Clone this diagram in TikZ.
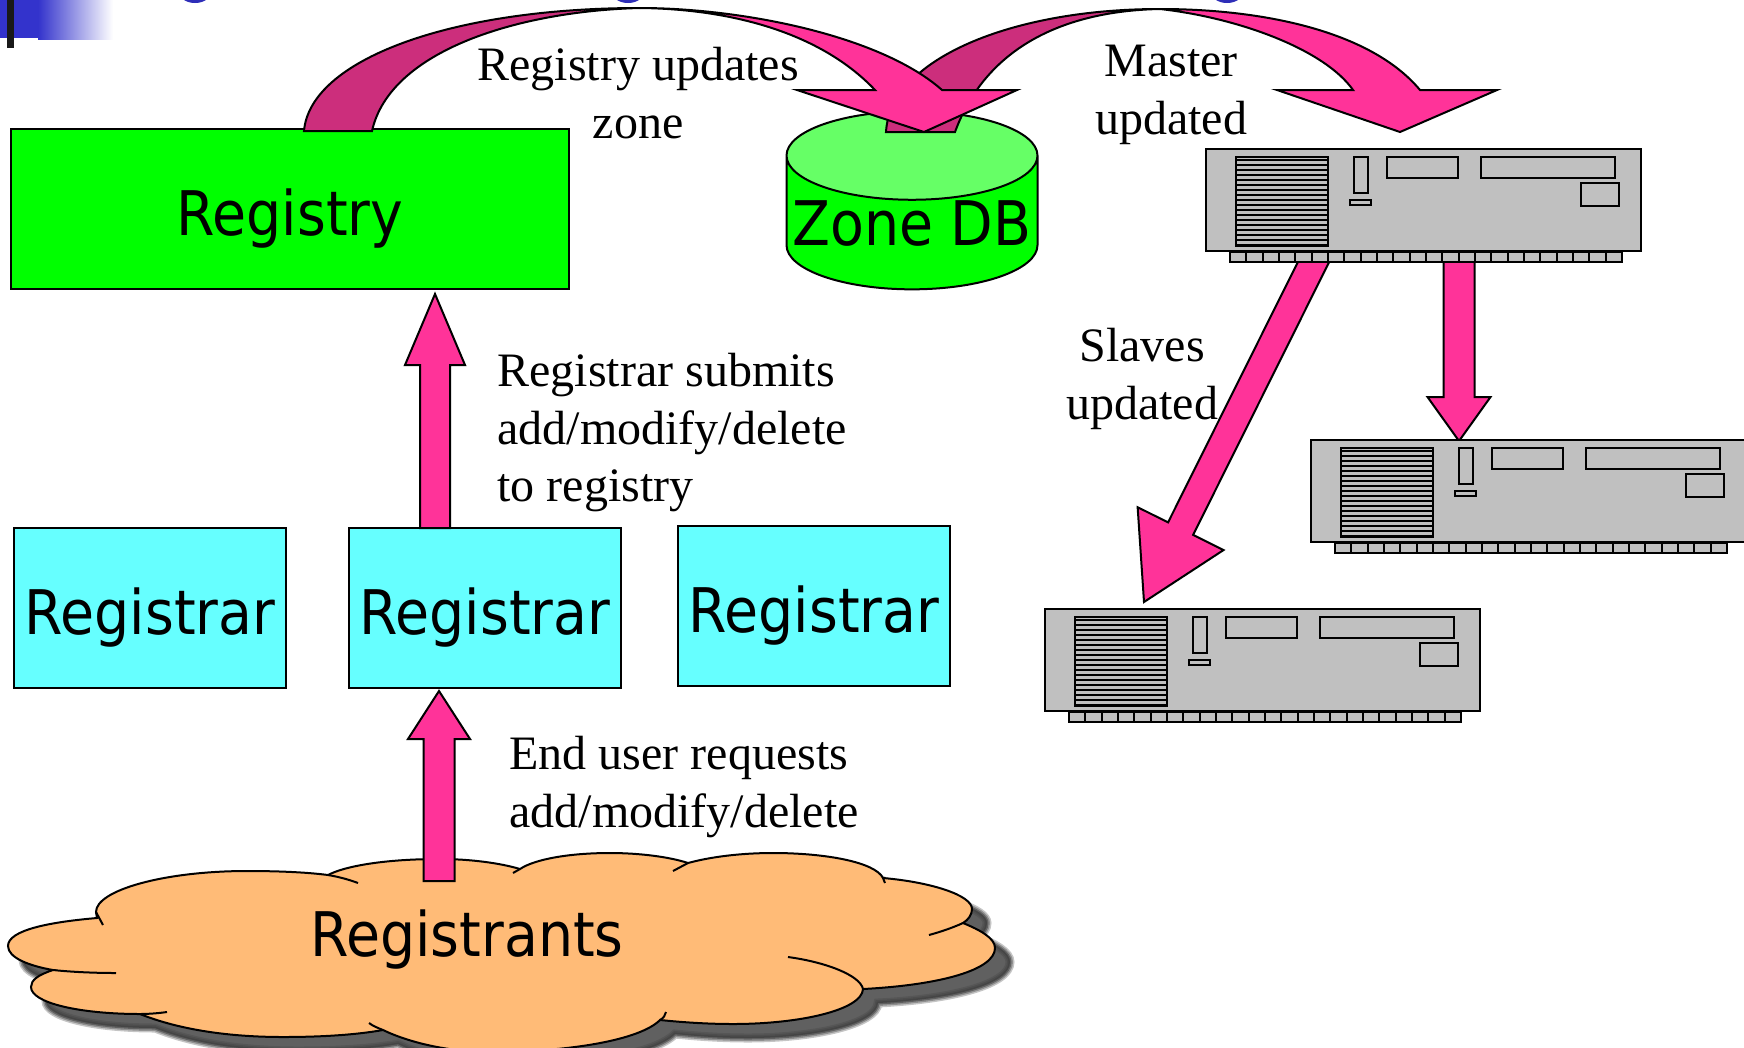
\documentclass[tikz,border=0pt]{standalone}
\usepackage{fontspec}
\setmainfont{Liberation Serif}
\newfontfamily\boxfont{DejaVu Sans Condensed}
\usetikzlibrary{calc,positioning,shapes.geometric}
\definecolor{hotpink}{HTML}{FF3399}
\definecolor{darkpink}{HTML}{CC2E7C}
\definecolor{headblue}{HTML}{3333CC}
\definecolor{srvgray}{HTML}{C0C0C0}
\definecolor{cloudfill}{HTML}{FFBB77}
\definecolor{regcyan}{HTML}{66FFFF}
\definecolor{lidgreen}{HTML}{66FF66}
\definecolor{shadowgray}{HTML}{404040}
\tikzset{
    %Define style for boxes
    bigtext/.style={
           font = \boxfont\fontsize{61.5}{66}\selectfont,
           text height = 53pt,
           text depth = 0pt},
    regbox/.style={
           rectangle, bigtext,
           draw = black, line width = 2pt,
           fill = regcyan,
           minimum width = 272pt,
           minimum height = 160pt},
    topbox/.style={
           rectangle, bigtext,
           draw = black, line width = 2pt,
           fill = green,
           minimum width = 558pt,
           minimum height = 160pt},
    dbase/.style={
           cylinder, bigtext,
           text height = 34pt,
           shape border rotate = 90,
           aspect = 0.36,
           draw = black, line width = 2pt,
           cylinder uses custom fill,
           cylinder body fill = green,
           cylinder end fill = lidgreen,
           minimum width = 251pt,
           minimum height = 178pt},
    % Define text style
    say/.style={
           font = \fontsize{48}{57.5}\selectfont,
           align = center},
    % Define arrow style
    fat/.style={
           draw = black, line width = 2pt,
           fill = hotpink},
    fatback/.style={
           draw = black, line width = 2pt,
           fill = darkpink},
    part/.style={
           draw = black, line width = 2pt,
           fill = srvgray},
    server/.pic={
           \draw[part] (0,0) rectangle (435,102);
           \foreach \tx in {0,...,23}
               \draw[part] ({24+\tx*16.33},103) rectangle ++(16.33,10);
           \draw[part] (30,8) rectangle (122,97);
           \foreach \ty in {11,16,...,96}
               \draw[line width = 2.2pt] (30,\ty) -- (122,\ty);
           \draw[part] (148,8) rectangle (162,44);
           \draw[part] (144,51) rectangle (165,56);
           \draw[part] (181,8) rectangle (252,29);
           \draw[part] (275,8) rectangle (409,29);
           \draw[part] (375,34) rectangle (413,57);
    }
}
% tail, tip, shaft width, head width, head length
\newcommand{\blockarrow}[5]{%
  \coordinate (neck) at ($(#2)!#5!(#1)$);
  \draw[fat] ($(#1)!#3/2!90:(#2)$) -- ($(neck)!#3/2!90:(#2)$) -- ($(neck)!#4/2!90:(#2)$)
     -- (#2) -- ($(neck)!#4/2!-90:(#2)$) -- ($(neck)!#3/2!-90:(#2)$) -- ($(#1)!#3/2!-90:(#2)$) -- cycle;
}
\newcommand{\cloudline}{
  (97,918) .. controls (50,922) and (8,930) .. (8,946)
  .. controls (8,958) and (30,966) .. (53,970)
  .. controls (38,975) and (31,980) .. (31,987)
  .. controls (31,1003) and (80,1014) .. (140,1014)
  .. controls (180,1030) and (230,1037) .. (283,1037)
  .. controls (320,1037) and (355,1035) .. (383,1030)
  .. controls (410,1043) and (450,1052) .. (490,1052)
  .. controls (570,1052) and (640,1040) .. (660,1020)
  .. controls (680,1022) and (705,1024) .. (733,1024)
  .. controls (800,1024) and (862,1010) .. (863,989)
  .. controls (940,985) and (995,970) .. (995,948)
  .. controls (995,938) and (980,930) .. (963,923)
  .. controls (968,920) and (972,915) .. (972,909)
  .. controls (972,895) and (930,882) .. (883,878)
  .. controls (875,862) and (825,853) .. (773,853)
  .. controls (740,853) and (710,857) .. (688,863)
  .. controls (670,857) and (640,853) .. (610,853)
  .. controls (570,853) and (535,859) .. (520,869)
  .. controls (500,863) and (470,859) .. (440,859)
  .. controls (385,859) and (345,866) .. (328,875)
  .. controls (305,872) and (275,871) .. (247,871)
  .. controls (165,871) and (96,890) .. (96,912) -- cycle
}
\begin{document}
\begin{tikzpicture}[x=1pt, y=-1pt]
\useasboundingbox (0,0) rectangle (1744,1047);
 %slide header
\fill[headblue] (0,0) rectangle (38,38);
\shade[left color=headblue, right color=white] (38,0) rectangle (113,39);
\fill[black!90] (7,0) rectangle (14,48);
\fill[headblue!90!black] (195,-8) ellipse (16 and 11);
\fill[headblue!90!black] (628,-8) ellipse (16 and 11);
\fill[headblue!90!black] (1227,-8) ellipse (16 and 11);
 %nodes
\node[topbox] (registry) at (290,209) {Registry};
\node[regbox] (regleft) at (150,608) {Registrar};
\node[regbox, right=61pt of regleft] (regmid) {Registrar};
\node[regbox, right=55pt of regmid, yshift=2pt] (regright) {Registrar};
\node[dbase] (zonedb) at (912,228) {Zone DB};
 %cloud
\foreach \w/\o in {9/0.3,6/0.4,3/0.6}
   \draw[line width=\w pt, draw=shadowgray, fill=shadowgray, opacity=\o, shift={(15,14)}] \cloudline;
\draw[line width=2pt, fill=cloudfill] \cloudline;
\draw[line width=2pt] (96,912) -- (103,925);
\draw[line width=2pt] (53,970) .. controls (72,972) and (95,973) .. (116,973);
\draw[line width=2pt] (140,1014) .. controls (150,1014) and (160,1013) .. (167,1012);
\draw[line width=2pt] (383,1030) .. controls (378,1028) and (373,1026) .. (369,1023);
\draw[line width=2pt] (660,1020) .. controls (664,1018) and (665,1015) .. (666,1012);
\draw[line width=2pt] (863,989) .. controls (860,975) and (825,962) .. (788,957);
\draw[line width=2pt] (963,923) .. controls (952,928) and (940,932) .. (929,935);
\draw[line width=2pt] (883,878) -- (885,883);
\draw[line width=2pt] (688,863) -- (673,871);
\draw[line width=2pt] (520,869) -- (513,873);
\draw[line width=2pt] (328,875) .. controls (340,877) and (350,880) .. (358,883);
\node[bigtext] (registrants) at (467,930) {Registrants};
 %curved arrows
\draw[fatback] (886,132) .. controls (890,60) and (1010,9) .. (1160,9)
    .. controls (1060,11) and (985,50) .. (955,132) -- cycle;
\draw[fat] (1160,9) .. controls (1260,9) and (1370,30) .. (1420,90) -- (1497,90) -- (1400,132)
    -- (1277,90) -- (1353,90) .. controls (1325,50) and (1240,18) .. (1160,9) -- cycle;
\draw[fatback] (304,131) .. controls (310,60) and (450,8) .. (640,8)
    .. controls (520,11) and (390,50) .. (372,131) -- cycle;
\draw[fat] (640,8) .. controls (740,8) and (880,35) .. (942,90) -- (1017,90) -- (924,132)
    -- (797,90) -- (875,90) .. controls (820,32) and (730,9) .. (640,8) -- cycle;
 %straight arrows
\coordinate (upfrom) at (435,528);
\coordinate (upto) at (435,294);
\coordinate (cloudtop) at (439,881);
\coordinate (cloudto) at (439,691);
\coordinate (taildown) at (1459,255);
\coordinate (tipdown) at (1459,441);
\coordinate (tailslant) at (1317,255);
\coordinate (tipslant) at (1144,602);
\blockarrow{upfrom}{upto}{30pt}{60pt}{71pt}
\blockarrow{cloudtop}{cloudto}{31pt}{62pt}{48pt}
\blockarrow{taildown}{tipdown}{31pt}{63pt}{44pt}
\blockarrow{tailslant}{tipslant}{28pt}{96pt}{82pt}
 %servers
\pic (master) at (1206,149) {server};
\pic (slavetwo) at (1311,440) {server};
\pic (slavethree) at (1045,609) {server};
 %labels
\node[say] (lblzone) at (638,93) {Registry updates\\zone};
\node[say] (lblmaster) at (1171,95) {Master\\updated};
\node[say] (lblslaves) at (1142,379) {Slaves\\updated};
\node[say, anchor=west, align=left] (lblsubmit) at (494,433) {Registrar submits\\add/modify/delete\\to registry};
\node[say, anchor=west, align=left] (lblrequest) at (506,787) {End user requests\\add/modify/delete};
\end{tikzpicture}
\end{document}
